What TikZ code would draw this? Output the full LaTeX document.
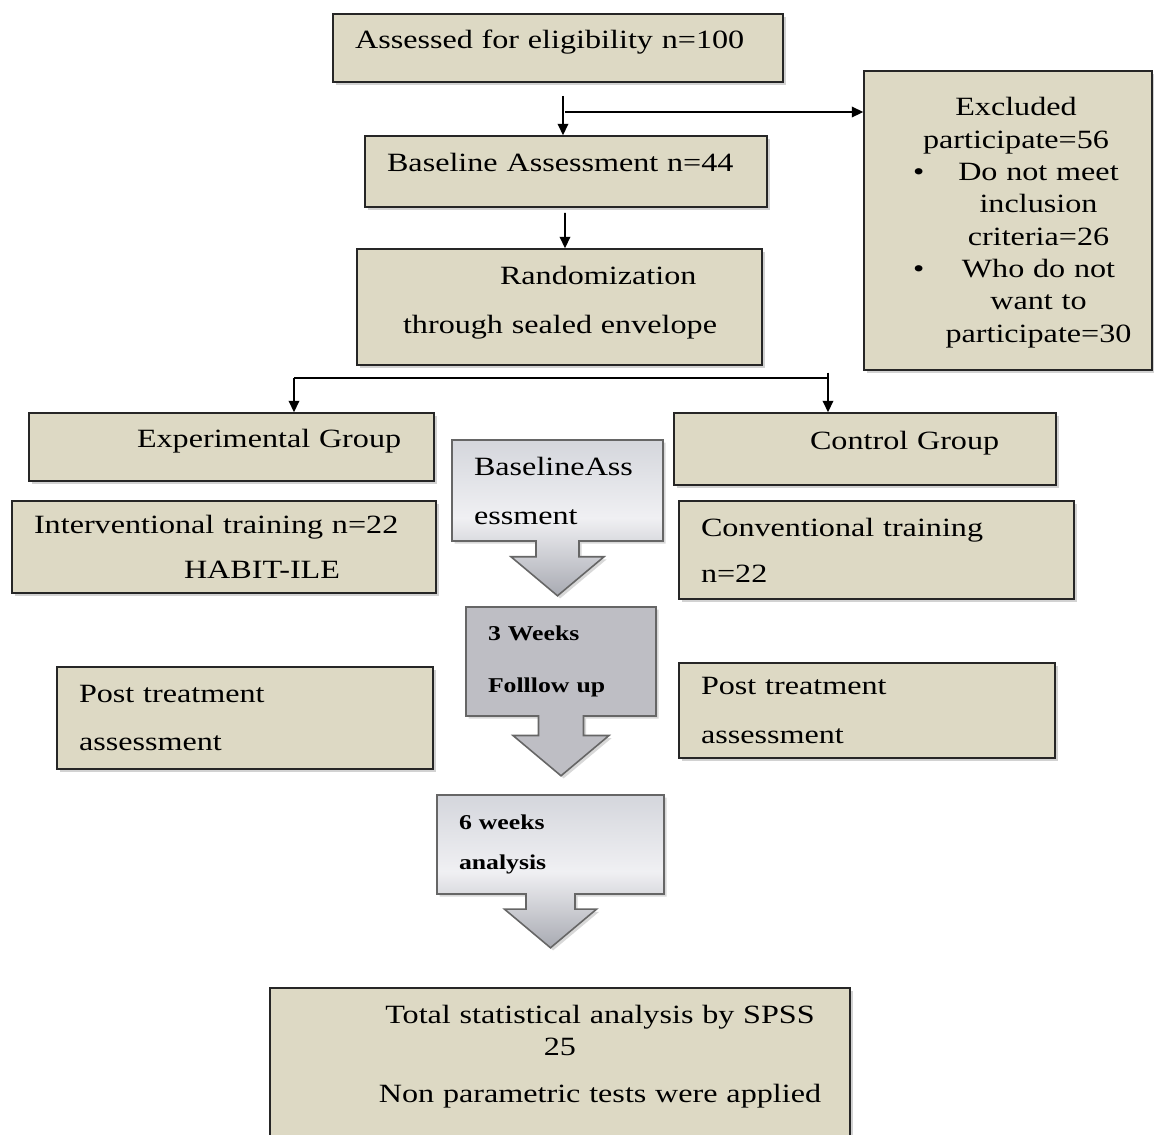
\documentclass[tikz,border=0pt]{standalone}
\usepackage{fontspec}
\setmainfont{Liberation Serif}[FakeStretch=1.22]
\usepackage{xcolor}
\usepackage{tikz}
\usetikzlibrary{arrows.meta,calc,shadows,shapes.arrows}

\definecolor{beige}{RGB}{221,217,196}
\definecolor{calltop}{RGB}{212,214,220}
\definecolor{callmid}{RGB}{240,240,243}
\definecolor{callbot}{RGB}{168,170,178}
\definecolor{callgray}{RGB}{190,190,196}

\newcommand{\exhead}[1]{\hspace*{0.36cm}\makebox[4.8cm][c]{#1}}
\newcommand{\exitem}[1]{\makebox[1.22cm][l]{\hspace*{0.7cm}\textbullet}\makebox[3.98cm][c]{#1}}
\newcommand{\exline}[1]{\hspace*{1.22cm}\makebox[3.98cm][c]{#1}}

\begin{document}
\begin{tikzpicture}[x=0.02cm, y=-0.02cm,
  box/.style={draw=black!85, line width=0.9pt, fill=beige,
              drop shadow={shadow xshift=1.5pt, shadow yshift=-1.5pt, opacity=.35},
              inner xsep=0.44cm, inner ysep=0pt, align=left,
              font=\fontsize{15}{18.4}\selectfont},
  oneline/.style={text height=0.4cm, text depth=0.4cm},
  callout/.style={arrow box, arrow box tip angle=100, draw=black!60, line width=0.9pt,
              drop shadow={shadow xshift=1.5pt, shadow yshift=-1.5pt, opacity=.3},
              inner xsep=0.44cm, inner ysep=0pt, align=left},
  shaded/.style={top color=calltop, bottom color=callbot, middle color=callmid},
  arr/.style={-{Triangle[length=6.5pt, width=6pt]}, line width=1pt}
]
  \fill[white] (0,0) rectangle (1154,1134);
  \useasboundingbox (0,0) rectangle (1154,1134);

  \node[box, oneline, minimum width=9cm, minimum height=1.36cm, text width=8.12cm] (elig) at (558,48) {Assessed for eligibility n=100};
  \node[box, oneline, minimum width=8.04cm, minimum height=1.42cm, text width=7.16cm] (base) at (566,171.5) {Baseline Assessment n=44};
  \node[box, minimum width=8.1cm, minimum height=2.32cm, text width=7.22cm] (random) at (559.5,307)
    {\hspace*{2.42cm}Randomization\\[9.5pt]\hspace*{0.48cm}through sealed envelope\rule[-0.28cm]{0pt}{0pt}};
  \node[box, minimum width=5.76cm, minimum height=5.98cm, text width=5.2cm, inner xsep=0.28cm] (excl) at (1008,220.5)
    {\rule{0pt}{0.45cm}\exhead{Excluded}\\\exhead{participate=56}\\\exitem{Do not meet}\\\exline{inclusion}\\\exline{criteria=26}\\
     \exitem{Who do not}\\\exline{want to}\\\exline{participate=30}};

  \node[box, oneline, minimum width=8.1cm, minimum height=1.36cm, text width=7.22cm] (exp) at (231.5,447) {\hspace*{1.72cm}Experimental Group};
  \node[box, oneline, minimum width=7.64cm, minimum height=1.44cm, text width=6.76cm] (ctrl) at (865,449) {\hspace*{2.28cm}Control Group};
  \node[box, minimum width=8.48cm, minimum height=1.84cm, text width=7.6cm] (interv) at (224,547)
    {Interventional training n=22\\[7.2pt]\hspace*{3.0cm}HABIT-ILE};
  \node[box, minimum width=7.9cm, minimum height=1.96cm, text width=7.02cm] (conv) at (876.5,550)
    {Conventional training\\[7.8pt]n=22};
  \node[box, minimum width=7.52cm, minimum height=2.04cm, text width=6.64cm] (postl) at (245,718)
    {Post treatment\\[9pt]assessment};
  \node[box, minimum width=7.52cm, minimum height=1.9cm, text width=6.64cm] (postr) at (867,710.5)
    {Post treatment\\[9pt]assessment};
  \node[box, align=center, minimum width=11.6cm, minimum height=3.24cm, text width=10.72cm,
        text height=0.4cm, text depth=2.24cm] (total) at (560,1069)
    {\hspace*{1.6cm}Total statistical analysis by SPSS\\25\\[8.3pt]\hspace*{1.6cm}Non parametric tests were applied};

  \node[callout, shaded, minimum width=4.22cm, minimum height=2.02cm, text width=3.34cm,
        arrow box shaft width=0.86cm, arrow box head extend=0.5cm, arrow box arrows={south:1.08cm from border},
        font=\fontsize{15}{18.4}\selectfont] (blass) at (557.5,490.5) {BaselineAss\\[9.5pt]essment};
  \node[callout, fill=callgray, minimum width=3.8cm, minimum height=2.18cm, text width=2.92cm,
        arrow box shaft width=0.9cm, arrow box head extend=0.51cm, arrow box arrows={south:1.18cm from border},
        font=\fontsize{12}{14}\selectfont\bfseries] (follow) at (561,661.5) {3 Weeks\\[15.6pt]Folllow up};
  \node[callout, shaded, minimum width=4.54cm, minimum height=1.98cm, text width=3.66cm,
        arrow box shaft width=0.98cm, arrow box head extend=0.43cm, arrow box arrows={south:1.06cm from border},
        font=\fontsize{12}{14}\selectfont\bfseries] (analys) at (550.5,844.5) {6 weeks\\[8.8pt]analysis};

  \coordinate (exsplit) at (565,112);
  \coordinate (forkl) at (294,378);
  \coordinate (forkr) at (828,378);
  \draw[arr] ($(elig.south)+(5,13)$) -- ($(base.north)+(-3,0)$);
  \draw[arr] (exsplit) -- (exsplit -| excl.west);
  \draw[arr] ($(base.south)+(-1,5)$) -- ($(random.north)+(5.5,0)$);
  \draw[line width=1pt] (forkl) -- (forkr);
  \draw[arr] (forkl) -- (forkl |- exp.north);
  \draw[arr] ([yshift=3pt]forkr) -- (forkr |- ctrl.north);
\end{tikzpicture}
\end{document}
